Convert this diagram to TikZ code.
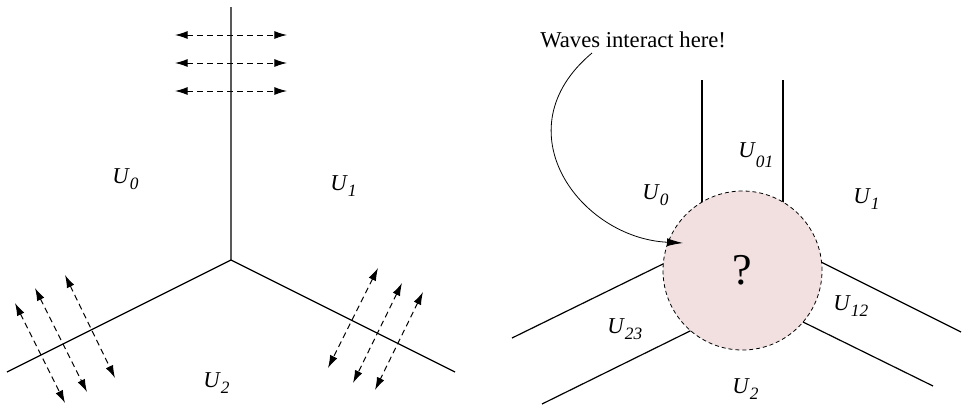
\documentclass[tikz,border=0pt]{standalone}
\usepackage{fontspec}
\setmainfont{Liberation Serif}
\usetikzlibrary{arrows.meta}
\definecolor{blob}{RGB}{242,224,225}
\newcommand\Ulab[2][5pt]{\textit{U}\raisebox{-#1}{\fontsize{13}{13}\selectfont\textit{#2}}}
\begin{document}
\begin{tikzpicture}[x=0.75pt,y=-0.75pt,
  wall/.style={line width=0.9pt},
  wave/.style={line width=0.75pt, dash pattern=on 4.5pt off 3pt,
    {Latex[length=9.5pt,width=6pt]}-{Latex[length=9.5pt,width=6pt]}},
  lab/.style={font=\fontsize{17}{20}\selectfont, inner sep=0pt, anchor=base west},
]
\useasboundingbox[fill=white] (0,0) rectangle (962,405);

% ---------- left figure ----------
\coordinate (J) at (231,260);
\coordinate (Jt) at (231,7);
\coordinate (Jl) at (7,372);
\coordinate (Jr) at (455,372);
\draw[wall] (Jt) -- (J) -- (Jl);
\draw[wall] (J) -- (Jr);

\foreach \y [count=\i] in {35,63,91}{
  \coordinate (ta\i) at (175,\y);
  \coordinate (tb\i) at (287,\y);
  \draw[wave] (ta\i) -- (tb\i);
}
\coordinate (la1) at (15,303);  \coordinate (lb1) at (65,403);
\coordinate (la2) at (35,288);  \coordinate (lb2) at (87,392);
\coordinate (la3) at (65,275);  \coordinate (lb3) at (115,378);
\coordinate (ra1) at (378,268); \coordinate (rb1) at (328,368);
\coordinate (ra2) at (402,283); \coordinate (rb2) at (353,383);
\coordinate (ra3) at (423,292); \coordinate (rb3) at (375,390);
\foreach \i in {1,2,3}{
  \draw[wave] (la\i) -- (lb\i);
  \draw[wave] (ra\i) -- (rb\i);
}

\node[lab] (L0) at (112,183) {\Ulab{0}};
\node[lab] (L1) at (330,190) {\Ulab{1}};
\node[lab] (L2) at (203,387) {\Ulab{2}};

% ---------- right figure ----------
\coordinate (v1a) at (702,80);  \coordinate (v1b) at (702,206);
\coordinate (v2a) at (783,80);  \coordinate (v2b) at (783,206);
\coordinate (ula) at (512,338); \coordinate (ulb) at (667,262);
\coordinate (lla) at (542,404); \coordinate (llb) at (692,330);
\coordinate (ura) at (961,332); \coordinate (urb) at (819,261);
\coordinate (lra) at (933,386); \coordinate (lrb) at (801,321);
\draw[wall] (v1a) -- (v1b);
\draw[wall] (v2a) -- (v2b);
\draw[wall] (ula) -- (ulb);
\draw[wall] (lla) -- (llb);
\draw[wall] (ura) -- (urb);
\draw[wall] (lra) -- (lrb);

\node[circle, minimum size=119.25pt, inner sep=0pt, fill=blob, draw,
      line width=0.6pt, dash pattern=on 3pt off 2.2pt,
      font=\fontsize{33}{36}\selectfont] (C) at (742.5,270.5) {?};

\node[lab] (R0) at (642,199) {\Ulab{0}};
\node[lab] (R01) at (738,157) {\Ulab[8pt]{01}};
\node[lab] (R1) at (853,203) {\Ulab{1}};
\node[lab] (R12) at (833,310) {\Ulab{12}};
\node[lab] (R23) at (607,333) {\Ulab{23}};
\node[lab] (R2) at (732,393) {\Ulab{2}};

\node[lab] (W) at (540,47) {Waves interact here!};
\coordinate (cs) at (592,53);
\coordinate (ce) at (683,243);
\draw[line width=0.6pt, -{Latex[length=12pt,width=6pt]}] (cs) .. controls (500,130) and (580,238) .. (ce);
\end{tikzpicture}
\end{document}
